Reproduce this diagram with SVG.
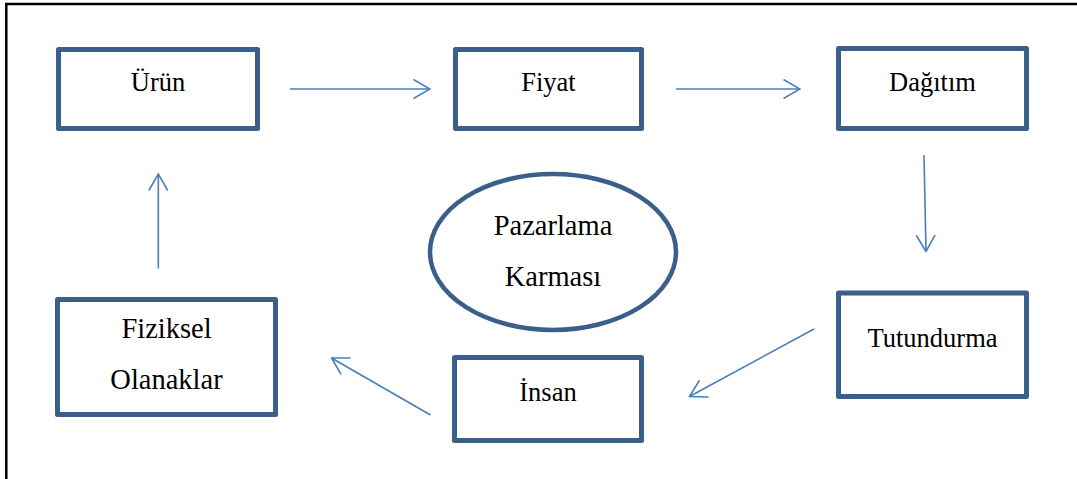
<svg xmlns="http://www.w3.org/2000/svg" width="1077" height="479" viewBox="0 0 1077 479">
<style>
.box{fill:#fff;stroke:#3a5f8b;stroke-width:5;stroke-linejoin:round}
.lbl{font-size:26.5px;fill:#000;text-anchor:middle}
.big{font-size:28.5px}
.con{fill:none;stroke:#4a7ebb;stroke-width:1.6;marker-end:url(#ah)}
.frame{stroke:#000;stroke-width:2.5;fill:none}
</style>
<defs>
<marker id="ah" viewBox="0 0 18 20" refX="17" refY="10" markerWidth="18" markerHeight="20" markerUnits="userSpaceOnUse" orient="auto">
<path d="M0.5,0.5 L17,10 L0.5,19.5" fill="none" stroke="#4a7ebb" stroke-width="1.6"/>
</marker>
</defs>
<g id="frame">
<line class="frame" x1="5" y1="4" x2="1077" y2="4"/>
<line class="frame" x1="6.3" y1="3" x2="6.3" y2="479"/>
</g>
<g font-family="Liberation Serif, Times New Roman, DejaVu Serif, serif">
<g id="urun"><rect class="box" x="58.5" y="49.5" width="199" height="79"/><text class="lbl" x="158" y="90.5">Ürün</text></g>
<g id="fiyat"><rect class="box" x="455.5" y="49.5" width="186" height="79"/><text class="lbl" x="548.5" y="90.5">Fiyat</text></g>
<g id="dagitim"><rect class="box" x="838.5" y="48.5" width="188" height="80"/><text class="lbl" x="932.5" y="91">Dağıtım</text></g>
<g id="tutundurma"><rect class="box" x="838.5" y="293" width="188" height="103.5"/><text class="lbl" x="932.5" y="347">Tutundurma</text></g>
<g id="insan"><rect class="box" x="454.5" y="357.5" width="187" height="83"/><text class="lbl" x="548" y="401">İnsan</text></g>
<g id="fiziksel"><rect class="box" x="57.5" y="299.5" width="218" height="115"/><text class="lbl big" x="166.5" y="338">Fiziksel</text><text class="lbl big" x="166.5" y="389">Olanaklar</text></g>
<g id="pazarlama"><ellipse cx="553" cy="252" rx="123" ry="78" fill="#fff" stroke="#3a5f8b" stroke-width="4.5"/><text class="lbl big" x="553" y="235">Pazarlama</text><text class="lbl big" x="553" y="286">Karması</text></g>
</g>
<g id="connectors">
<line class="con" x1="290" y1="89" x2="430" y2="89"/>
<line class="con" x1="676" y1="89" x2="800" y2="89"/>
<line class="con" x1="924" y1="155" x2="926" y2="251.5"/>
<line class="con" x1="814" y1="329" x2="689.5" y2="396.5"/>
<line class="con" x1="430.5" y1="415" x2="331.5" y2="358"/>
<line class="con" x1="158.3" y1="268.5" x2="158.3" y2="174"/>
</g>
</svg>
